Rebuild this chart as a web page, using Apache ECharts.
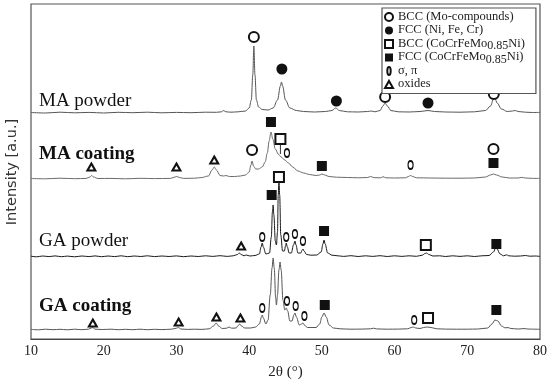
<!DOCTYPE html>
<html><head><meta charset="utf-8">
<script src="https://cdn.jsdelivr.net/npm/echarts@6/dist/echarts.min.js"></script>
<style>html,body{margin:0;padding:0;background:#fff}#c{width:550px;height:385px}</style>
</head><body><div id="c"></div>
<script>
// ---------- data (2θ in degrees, intensity in a.u.) ----------
const xTicks = [10, 20, 30, 40, 50, 60, 70, 80];
const patternNames = ['MA powder', 'MA coating', 'GA powder', 'GA coating'];
const patternOffsets = [226, 160, 82, 9];

const maPowder = [[10,0.5],[12,0],[14,0.8],[16,0.2],[18,0.6],[20,0],[22,0.7],[24,0.3],[26,0.8],[28,0.2],[30,0.6],[32,0.3],[34,0.8],[35.5,0.7],[36.2,1.2],[36.5,2.5],[36.8,1.2],[37.5,0.8],[38.5,1.2],[39.5,2],[40.0,5],[40.3,13],[40.5,38],[40.65,67],[40.8,38],[41.0,13],[41.3,6],[41.8,3.5],[42.6,3],[43.3,5],[43.9,13],[44.3,27],[44.45,31],[44.6,27],[45.0,13],[45.6,5],[46.5,2.5],[47.5,1.5],[49,1],[50.5,1.5],[51.4,2.5],[51.9,5],[52.4,2.5],[53.5,1.2],[55,1],[56.3,1.5],[56.8,2],[57.3,1.2],[58,2.5],[58.4,7],[58.7,10],[59.0,7],[59.5,2.5],[60.5,1.2],[62,1],[63.5,1.5],[64.6,2.5],[65.5,1.5],[67,1],[69,0.8],[71,1.2],[72.5,2.5],[73.2,7],[73.6,14],[73.8,15],[74.1,10],[74.7,4],[75.5,1.5],[76.2,2],[76.6,2.5],[77,1.5],[78,0.8],[79,0.5],[80,0.6]];

const maCoating = [[10,0.5],[12,0.2],[14,0.8],[16,0.3],[17.6,0.6],[18.1,2],[18.35,3.5],[18.6,2],[19.2,0.5],[21,0.6],[23,0.2],[25,0.7],[27,0.4],[29.2,0.6],[29.8,2],[30.05,2.5],[30.4,1.5],[31,0.6],[32.5,0.8],[33.5,1.5],[34.4,3],[34.9,9],[35.2,12],[35.5,9],[36.0,3.5],[36.5,3],[36.8,3.5],[37.3,2.5],[38,2.5],[38.8,3],[39.5,4],[40.0,7],[40.25,14],[40.4,18],[40.6,13],[40.9,10],[41.3,10],[41.8,12],[42.2,17],[42.5,26],[42.75,38],[43.0,47],[43.25,40],[43.6,30],[44.0,25],[44.4,22],[44.9,19],[45.4,16],[46.0,12],[46.7,8],[47.5,6],[48.3,4.5],[49.2,3.5],[49.7,4],[50.0,5],[50.4,4],[51,2.5],[52,1.8],[53.5,1.5],[55,1.2],[56.3,1.5],[56.7,2.5],[57.2,1.3],[58.1,1.2],[58.4,2.3],[58.8,1.2],[60,1],[61.5,1.2],[61.9,2.5],[62.2,3.5],[62.5,2.5],[63,1.2],[65,1],[67,0.8],[69,0.8],[71,1],[72.5,2],[73.2,4],[73.6,5],[74.0,4],[74.8,2],[75.8,1],[77,1],[77.5,1.6],[78,1],[79,0.6],[80,0.6]];

const gaPowder = [[10,0.8],[10.8,0.2],[11.6,1],[12.5,0.4],[13.3,1.1],[14.2,0.3],[15,0.9],[16,0.2],[17,1],[18,0.4],[18.8,1.1],[19.7,0.3],[20.6,1],[21.5,0.4],[22.4,1.2],[23.3,0.3],[24.2,1],[25.1,0.5],[26,1.2],[27,0.4],[28,1],[29,0.5],[30,1.1],[31,0.3],[32,1],[33,0.5],[34,1.2],[35,0.6],[36,1.3],[37,0.6],[37.8,1.2],[38.4,2.5],[38.65,4],[38.9,2.5],[39.3,1.2],[39.6,2],[40.1,1],[40.8,1.5],[41.4,3],[41.65,10],[41.8,14],[41.95,10],[42.3,3],[42.8,4],[43.05,20],[43.2,45],[43.3,52],[43.4,42],[43.6,16],[43.75,12],[43.9,25],[44.0,62],[44.1,76],[44.2,62],[44.35,22],[44.6,6],[44.85,6],[45.0,11],[45.1,14],[45.25,10],[45.5,4],[45.8,4],[46.1,12],[46.3,16],[46.45,12],[46.7,4],[47.1,4],[47.3,7],[47.4,8],[47.55,6],[47.9,2.5],[48.5,1.8],[49.3,2],[49.9,5],[50.15,13],[50.3,17],[50.45,13],[50.8,4],[51.4,1.8],[52.2,1.2],[53,0.6],[54,1.3],[55,0.5],[56,1.2],[57,0.6],[58,1.3],[59,0.5],[60,1.2],[61,0.6],[62,1.2],[63,0.7],[63.8,1.8],[64.2,3.5],[64.4,4],[64.7,2.5],[65.3,1],[66.2,1.2],[67,0.5],[68,1.2],[69,0.6],[70,1.2],[71,0.5],[72,1.2],[73,1.5],[73.6,5],[73.9,9],[74.1,8],[74.5,3],[75,1.2],[75.4,2.2],[75.7,1.2],[76.5,0.8],[77.3,1],[78,1.5],[78.6,0.8],[79.3,1],[80,0.6]];

const gaCoating = [[10,0.6],[11,0.2],[12,0.8],[13,0.3],[14,0.7],[15,0.2],[16,0.8],[17,0.3],[17.9,0.8],[18.3,2],[18.5,2.5],[18.8,0.8],[19.8,0.5],[21,0.8],[22,0.3],[23,0.7],[24,0.3],[25,0.8],[26,0.3],[27,0.7],[28,0.4],[29.3,0.8],[30.0,1.8],[30.25,2.5],[30.6,1],[31.5,0.6],[32.5,0.8],[33.5,0.6],[34.5,1.2],[35.1,4],[35.45,7],[35.8,4],[36.3,1.5],[36.9,1.8],[37.25,3],[37.6,1.8],[38.2,2],[38.5,4.5],[38.7,6],[38.95,4],[39.4,2],[40.2,2],[40.9,3],[41.4,6],[41.7,13],[41.8,15],[41.95,12],[42.3,6],[42.6,10],[42.9,35],[43.15,62],[43.3,72],[43.45,62],[43.65,32],[43.75,25],[43.9,35],[44.1,60],[44.25,68],[44.4,60],[44.65,30],[44.9,20],[45.1,22],[45.3,19],[45.6,9],[45.9,9],[46.15,15],[46.3,17],[46.5,13],[46.9,5],[47.2,6],[47.4,7],[47.6,5],[48.0,2.5],[48.5,2.5],[49.2,2.5],[49.7,6],[50.0,13],[50.3,17],[50.6,13],[51.0,5],[51.6,2],[52.5,1.2],[54,0.8],[55.5,0.9],[56.7,1.2],[57.1,1.8],[57.5,1.1],[59,0.8],[60.5,0.9],[61.8,1.2],[62.3,2.5],[62.6,3],[62.9,2],[63.5,1.5],[64.0,2.5],[64.5,3],[65.0,2.5],[65.8,1.2],[67,0.9],[68.5,0.8],[70,0.8],[71.5,1],[72.8,2],[73.4,6],[73.8,10],[74.2,9],[74.7,4],[75.2,2.2],[75.6,2.4],[76,1.5],[77,1],[77.8,1.4],[78.5,0.9],[80,0.7]];

// phase markers [2θ, a.u. position on the stacked scale]
const markBccMo   = [[40.65,302],[58.7,242],[73.65,245],[40.4,189],[73.6,190]];
const markFccNi   = [[44.5,270],[52.0,238],[64.6,236]];
const markBccHea  = [[44.3,200],[44.1,162],[64.3,94],[64.6,21]];
const markFccHea  = [[43.0,217],[50.0,173],[73.6,176],[43.1,144],[50.3,108],[74.0,95],[50.4,34],[74.0,29]];
const markSigma   = [[45.2,186],[62.2,174],[41.8,102],[45.1,102],[46.3,105],[47.4,98],[41.8,31],[45.2,38],[46.4,33],[47.6,23],[62.7,19]];
const markOxides  = [[18.3,172],[30.0,172],[35.2,179],[38.9,93],[18.5,16],[30.3,17],[35.5,22],[38.8,21]];
const pointerLine = [[44.3,194],[44.3,185]];

const legendNames = ['BCC (Mo-compounds)', 'FCC (Ni, Fe, Cr)', 'BCC (CoCrFeMo0.85Ni)', 'FCC (CoCrFeMo0.85Ni)', 'σ, π', 'oxides'];

// ---------- chart ----------
const SERIF = '"Liberation Serif", "DejaVu Serif", serif';
const traces = [maPowder, maCoating, gaPowder, gaCoating];
const traceColors = ['#555', '#6a6a6a', '#1a1a1a', '#555'];
const ellipsePath = 'path://M5,0 C8.4,0 8.4,12 5,12 C1.6,12 1.6,0 5,0 Z';
const triPath = 'path://M5,0 L10,9 L0,9 Z';

const series = traces.map((t, i) => ({
  name: patternNames[i], type: 'line', data: t.map(p => [p[0], p[1] + patternOffsets[i]]),
  showSymbol: false, smooth: 0.35, smoothMonotone: 'x', silent: true,
  lineStyle: { color: traceColors[i], width: 1 }, z: 2
}));
const mk = (name, data, symbol, size, hollow, bw) => ({
  name, type: 'scatter', data, symbol, symbolSize: size, z: 5, silent: true,
  itemStyle: hollow ? { color: '#fff', borderColor: '#111', borderWidth: bw, opacity: 1 } : { color: '#111', opacity: 1 }
});
series.push(
  mk(legendNames[0], markBccMo, 'circle', 10, true, 2),
  mk(legendNames[1], markFccNi, 'circle', 11, false),
  mk(legendNames[2], markBccHea, 'rect', 10, true, 2),
  mk(legendNames[3], markFccHea, 'rect', 10, false),
  mk(legendNames[4], markSigma, ellipsePath, [5, 8], true, 1.5),
  mk(legendNames[5], markOxides, triPath, [8, 7], true, 2),
  { type: 'line', data: pointerLine, showSymbol: false, silent: true, lineStyle: { color: '#333', width: 1 }, z: 3 }
);

const labelPos = [[39, 107, 'normal'], [39, 160, 'bold'], [39, 247, 'normal'], [39, 312, 'bold']];
const graphics = patternNames.map((n, i) => ({
  type: 'text', left: labelPos[i][0], top: labelPos[i][1] - 15, z: 10,
  style: { text: n, font: labelPos[i][2] + ' 19px ' + SERIF, fill: '#111' }
}));
graphics.push({
  type: 'text', x: 12, y: 172, rotation: Math.PI / 2, z: 10,
  style: { text: 'Intensity [a.u.]', font: '14.5px "DejaVu Sans", sans-serif', fill: '#333', textAlign: 'center', textVerticalAlign: 'middle' }
});

const legendFormatter = n => {
  const parts = n.split('0.85');
  return parts.map(p => p ? '{n|' + p + '}' : '').join('{s|0.85}');
};

const chart = echarts.init(document.getElementById('c'), null, { renderer: 'canvas' });
chart.setOption({
  animation: false,
  backgroundColor: '#fff',
  grid: { left: 31, right: 9, top: 4, bottom: 46, show: true, borderColor: '#555', borderWidth: 1.2, backgroundColor: 'transparent' },
  xAxis: {
    type: 'value', min: xTicks[0], max: xTicks[xTicks.length - 1], interval: xTicks[1] - xTicks[0],
    axisLine: { lineStyle: { color: '#444', width: 1.2 } }, axisTick: { show: false }, splitLine: { show: false },
    axisLabel: { fontFamily: SERIF, fontSize: 14, color: '#222', margin: 5 },
    name: '2θ (°)', nameLocation: 'middle', nameGap: 26, nameTextStyle: { fontFamily: SERIF, fontSize: 15, color: '#222' }
  },
  yAxis: { type: 'value', min: 0, max: 335, show: false },
  legend: {
    data: legendNames, orient: 'vertical', left: 382, top: 8, padding: [2, 11, 0, 2], itemGap: -2.5, z: 10,
    itemWidth: 8, itemHeight: 8, backgroundColor: '#fff', borderColor: '#555', borderWidth: 1.2, selectedMode: false,
    textStyle: { fontFamily: SERIF, fontSize: 12.5, color: '#222',
      rich: {
        n: { fontFamily: SERIF, fontSize: 12.5, color: '#222', lineHeight: 14, verticalAlign: 'top', padding: [0, 0, 3, 0] },
        s: { fontFamily: SERIF, fontSize: 12, color: '#222', lineHeight: 14, verticalAlign: 'top', padding: [3, 0, 0, 0] }
      } },
    formatter: legendFormatter
  },
  graphic: graphics,
  series
});
</script></body></html>
